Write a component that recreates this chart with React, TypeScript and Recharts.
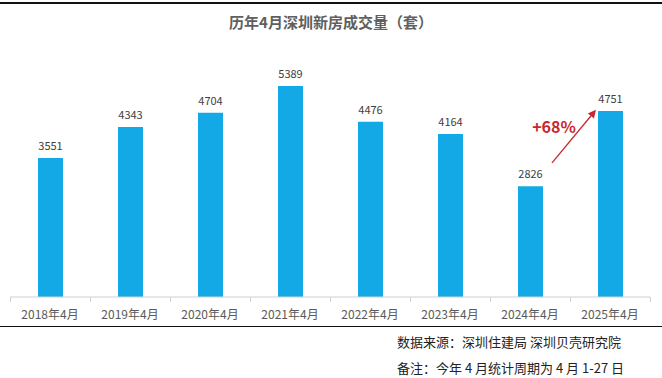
import { BarChart, Bar, XAxis, YAxis, LabelList, ReferenceLine } from 'recharts'

const months = ['2018年4月', '2019年4月', '2020年4月', '2021年4月', '2022年4月', '2023年4月', '2024年4月', '2025年4月']
const deals = [3551, 4343, 4704, 5389, 4476, 4164, 2826, 4751]
const growthLabel = '+68%'
const arrowFrom = 2747
const arrowTo = 5210

const data = months.map((m, i) => ({ name: m, value: deals[i] }))

const FONT = '"Noto Sans CJK SC", "Microsoft YaHei", sans-serif'
const RED = '#C8282E'

function GrowthArrow(props: any) {
    const { x1, y1, x2, y2 } = props
    if (x1 == null || x2 == null) return null
    const dx = x2 - x1
    const dy = y2 - y1
    const sx = x1 + dx * 0.275
    const sy = y1 + dy * 0.275
    const ex = x1 + dx * 0.825
    const ey = y1 + dy * 0.825
    const len = Math.sqrt((ex - sx) ** 2 + (ey - sy) ** 2)
    const ux = (ex - sx) / len
    const uy = (ey - sy) / len
    const hx = ex - ux * 8
    const hy = ey - uy * 8
    const px = -uy * 4
    const py = ux * 4
    const tx = x1 + dx * 0.3
    const ty = y1 + dy * 0.3
    return (
        <g>
            <line x1={sx} y1={sy} x2={hx} y2={hy} stroke={RED} strokeWidth={1.3} />
            <polygon points={`${ex},${ey} ${hx + px},${hy + py} ${hx - px},${hy - py}`} fill={RED} />
            <text x={tx} y={ty - 27} textAnchor="middle" fill={RED} fontSize={16} fontWeight="bold" fontFamily={FONT}>
                {growthLabel}
            </text>
        </g>
    )
}

export default function App() {
    return (
        <div style={{ position: 'absolute', left: 0, top: 0, width: 662, height: 378, background: '#fff', fontFamily: FONT, overflow: 'hidden' }}>
            <div style={{ position: 'absolute', left: 0, top: 2, width: 662, height: 2, background: '#111' }} />
            <div style={{ position: 'absolute', left: 0, top: 12, width: 662, textAlign: 'center', fontSize: 15, fontWeight: 'bold', color: '#5f5f5f', lineHeight: '20px' }}>
                历年4月深圳新房成交量（套）
            </div>
            <div style={{ position: 'absolute', left: 0, top: 0 }}>
                <BarChart width={662} height={330} data={data} margin={{ top: 62, right: 12, left: 10, bottom: 0 }}>
                    <XAxis
                        dataKey="name"
                        height={33}
                        interval={0}
                        axisLine={{ stroke: '#D0D0D0' }}
                        tickLine={false}
                        tick={{ fill: '#595959', fontSize: 12, fontFamily: FONT }}
                        tickMargin={7}
                    />
                    <YAxis hide domain={[0, 6000]} />
                    <Bar dataKey="value" fill="#13A9E6" barSize={25} isAnimationActive={false}>
                        <LabelList dataKey="value" position="top" offset={8} fill="#404040" fontSize={11} fontFamily={FONT} />
                    </Bar>
                    <ReferenceLine
                        segment={[{ x: months[6], y: arrowFrom }, { x: months[7], y: arrowTo }]}
                        shape={<GrowthArrow />}
                        stroke="none"
                    />
                </BarChart>
            </div>
            {months.map((_, i) => (
                <div key={i} style={{ position: 'absolute', left: 10 + i * 80, top: 297, width: 1, height: 5, background: '#D0D0D0' }} />
            ))}
            <div style={{ position: 'absolute', left: 650, top: 297, width: 1, height: 5, background: '#D0D0D0' }} />
            <div style={{ position: 'absolute', left: 0, top: 326, width: 662, height: 1, background: '#111' }} />
            <div style={{ position: 'absolute', left: 397, top: 333, fontSize: 13, color: '#222', lineHeight: '18px', whiteSpace: 'nowrap' }}>
                数据来源：深圳住建局 深圳贝壳研究院
            </div>
            <div style={{ position: 'absolute', left: 397, top: 359, fontSize: 13, color: '#222', lineHeight: '18px', whiteSpace: 'nowrap' }}>
                备注：今年 4 月统计周期为 4 月 1-27 日
            </div>
        </div>
    )
}
